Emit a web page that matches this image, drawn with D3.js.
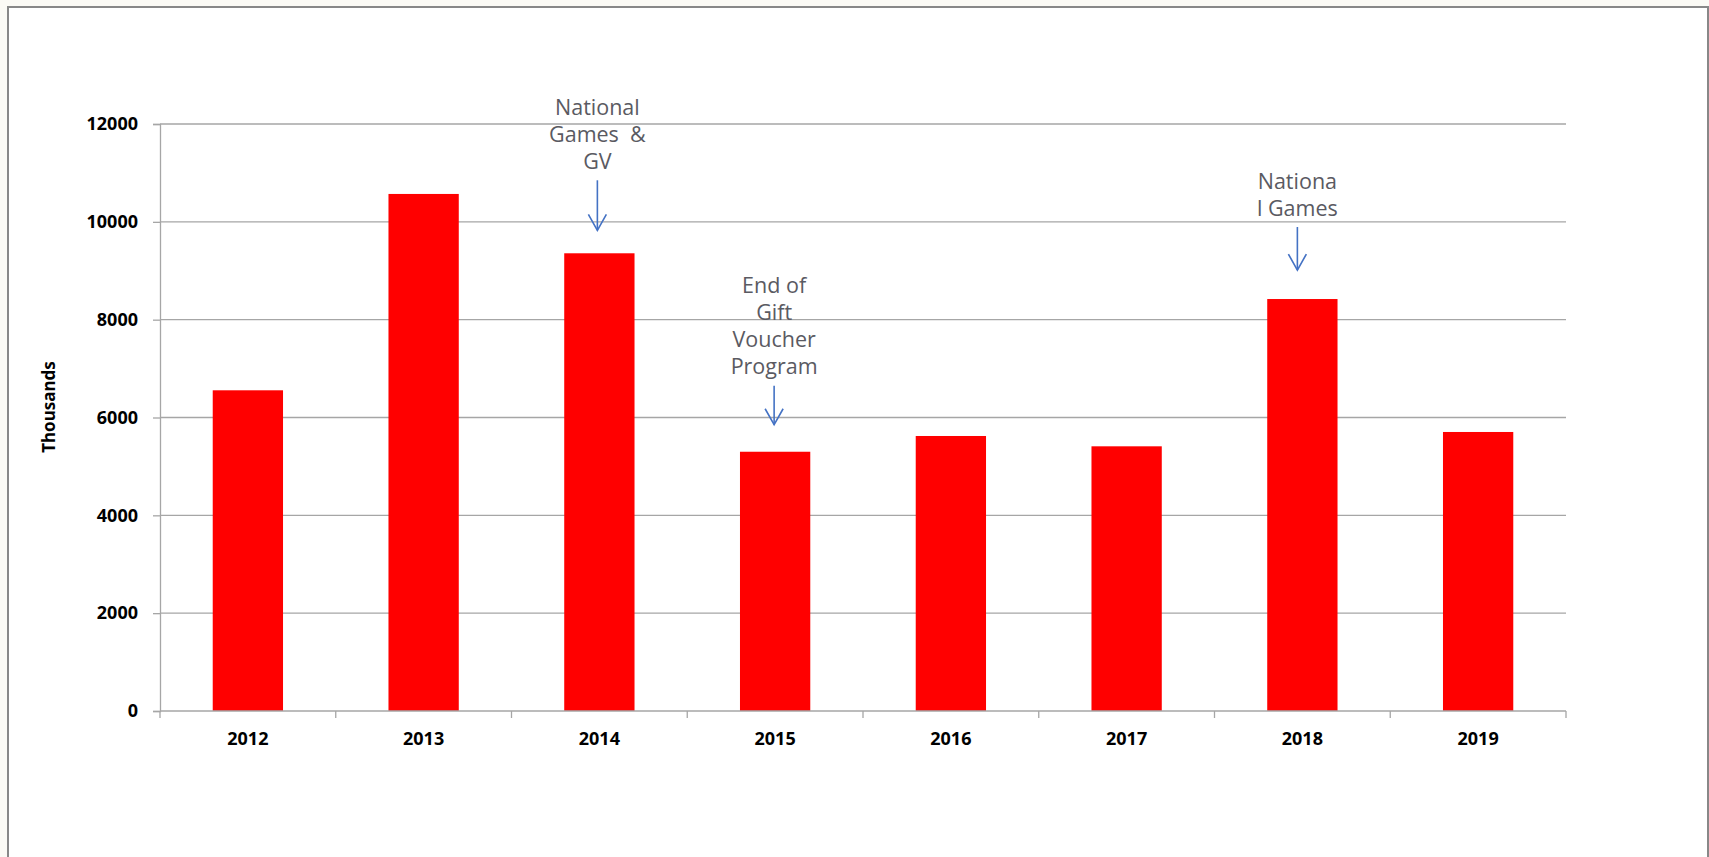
<!DOCTYPE html>
<html>
<head>
<meta charset="utf-8">
<script src="https://cdn.jsdelivr.net/npm/d3@7"></script>
<style>
  html, body { margin: 0; padding: 0; background: #fbfaf5; }
  svg { display: block; }
</style>
</head>
<body>
<div id="chart"></div>
<script>
// chart data
const years = ["2012", "2013", "2014", "2015", "2016", "2017", "2018", "2019"];
const values = [6556, 10570, 9357, 5300, 5622, 5411, 8422, 5704];
const yTicks = [0, 2000, 4000, 6000, 8000, 10000, 12000];
const yTitle = "Thousands";
const noteYears = ["2014", "2015", "2018"];
const noteLines = [
	["National", "Games  &", "GV"],
	["End of", "Gift", "Voucher", "Program"],
	["Nationa", "l Games"]
];

// annotation placement (style only)
const noteGap = [23, 27, 29];
const noteArrow = [50, 39, 43];
const noteDx = [-2, -1, -5];

const width = 1709, height = 857;
const margin = {top: 124, right: 143, bottom: 146, left: 160};
const innerW = width - margin.left - margin.right;
const innerH = height - margin.top - margin.bottom;

const svg = d3.select("#chart")
	.append("svg")
	.attr("width", width)
	.attr("height", height);

// frame
svg.append("rect")
	.attr("x", 8).attr("y", 7)
	.attr("width", 1700).attr("height", 900)
	.style("fill", "#fff")
	.style("stroke", "#888")
	.style("stroke-width", 2);

const g = svg.append("g")
	.attr("transform", "translate(" + margin.left + "," + margin.top + ")");

const x = d3.scaleBand().domain(years).range([0, innerW]);
const y = d3.scaleLinear().domain([0, 12000]).range([innerH, 0]);

// gridlines
g.selectAll("line.grid")
	.data(yTicks.filter(d => d > 0))
	.enter().append("line")
	.attr("class", "grid")
	.attr("x1", 0)
	.attr("x2", innerW)
	.attr("y1", d => y(d))
	.attr("y2", d => y(d))
	.style("stroke", "#a6a6a6")
	.style("stroke-width", 1.3);

// bars
const barW = x.bandwidth() * 0.4;
g.selectAll("rect.bar")
	.data(values)
	.enter().append("rect")
	.attr("class", "bar")
	.attr("x", (d, i) => x(years[i]) + (x.bandwidth() - barW) / 2)
	.attr("y", d => y(d))
	.attr("width", barW)
	.attr("height", d => innerH - y(d))
	.style("fill", "#ff0000");

// y axis
const yAxis = d3.axisLeft(y).tickValues(yTicks).tickSize(7).tickPadding(15).tickFormat(d3.format("d"));
const yG = g.append("g").attr("class", "y axis").call(yAxis);

// x axis: ticks sit on the category boundaries
const xAxisG = g.append("g")
	.attr("class", "x axis")
	.attr("transform", "translate(0," + innerH + ")");
xAxisG.append("line")
	.attr("x1", 0).attr("x2", innerW)
	.style("stroke", "#a6a6a6").style("stroke-width", 1.3);
xAxisG.selectAll("line.tick")
	.data(years.concat(["end"]))
	.enter().append("line")
	.attr("class", "tick")
	.attr("x1", (d, i) => i * x.step())
	.attr("x2", (d, i) => i * x.step())
	.attr("y1", 0).attr("y2", 7)
	.style("stroke", "#a6a6a6").style("stroke-width", 1.3);
xAxisG.selectAll("text")
	.data(years)
	.enter().append("text")
	.attr("x", d => x(d) + x.bandwidth() / 2)
	.attr("y", 28)
	.attr("dy", "0.35em")
	.attr("text-anchor", "middle")
	.text(d => d);

yG.select(".domain").style("stroke", "#a6a6a6").style("stroke-width", 1.3);
yG.selectAll(".tick line").style("stroke", "#a6a6a6").style("stroke-width", 1.3);
svg.selectAll(".axis text")
	.style("font-family", "'Noto Sans', sans-serif")
	.style("font-weight", "bold")
	.style("font-size", "18px")
	.style("fill", "#000");

// y title
svg.append("text")
	.attr("transform", "translate(49,407) rotate(-90)")
	.attr("text-anchor", "middle")
	.attr("dy", "0.35em")
	.style("font-family", "'Noto Sans', sans-serif")
	.style("font-weight", "bold")
	.style("font-size", "17px")
	.text(yTitle);

// annotations with arrows
const lineH = 27;
noteYears.forEach((yr, k) => {
	const cx = x(yr) + x.bandwidth() / 2 + noteDx[k];
	const tip = y(values[years.indexOf(yr)]) - noteGap[k];
	const start = tip - noteArrow[k];
	const ng = g.append("g");
	ng.append("line")
		.attr("x1", cx).attr("x2", cx)
		.attr("y1", start).attr("y2", tip)
		.style("stroke", "#4472c4").style("stroke-width", 1.6);
	ng.append("path")
		.attr("d", "M" + (cx - 9) + "," + (tip - 16) + "L" + cx + "," + tip + "L" + (cx + 9) + "," + (tip - 16))
		.style("fill", "none")
		.style("stroke", "#4472c4").style("stroke-width", 1.6);
	const lines = noteLines[k];
	ng.selectAll("text")
		.data(lines)
		.enter().append("text")
		.attr("x", cx)
		.attr("y", (d, i) => start - 19 - (lines.length - 1 - i) * lineH)
		.attr("dy", "0.35em")
		.attr("text-anchor", "middle")
		.style("font-family", "'Open Sans', sans-serif")
		.style("font-size", "21.5px")
		.style("fill", "#5a5a62")
		.style("white-space", "pre")
		.text(d => d);
});
</script>
</body>
</html>
